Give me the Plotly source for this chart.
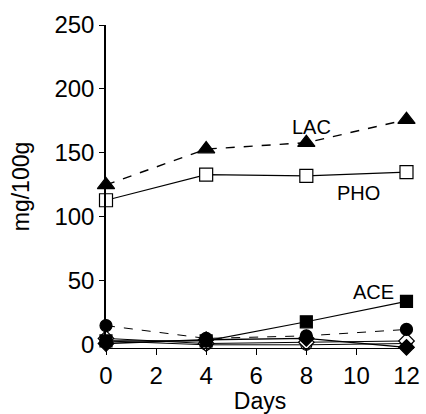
import plotly.graph_objects as go

days = [0, 4, 8, 12]

lac = [125, 153, 158, 176]        # filled triangle, dashed
pho = [113, 133, 132, 135]        # open square, solid
ace = [3, 3, 18, 34]              # filled square, solid
dot_dashed = [15, 5, 7, 12]       # filled circle, dashed
diamond_solid = [1, 4, 5, -2]     # filled diamond, solid
open_diamond = [5, 1, 2, 3]       # open diamond, solid
open_circle = [3, 0, 0, 1]        # open circle, solid

x_ticks = [0, 2, 4, 6, 8, 10, 12]
y_ticks = [0, 50, 100, 150, 200, 250]

FONT = "Liberation Sans, Arial, sans-serif"

fig = go.Figure()


def add(y, symbol, dash, size, width=1.2, fill="black"):
    fig.add_trace(go.Scatter(
        x=days, y=y, mode="lines+markers", cliponaxis=False,
        line=dict(color="black", width=width, dash=dash),
        marker=dict(symbol=symbol, size=size, color=fill,
                    line=dict(color="black", width=1.2)),
        showlegend=False,
    ))


# open markers use a white fill so lines don't show through them
add(open_circle, "circle", "solid", 11, 1.0, "white")
add(open_diamond, "diamond", "solid", 12, 1.0, "white")
add(diamond_solid, "diamond", "solid", 12, 1.4)
add(dot_dashed, "circle", "dash", 12, 1.0)
add(ace, "square", "solid", 12, 1.2)
add(pho, "square", "solid", 13, 1.2, "white")
add(lac, "triangle-up", "dash", 15, 1.4)

labels = [("LAC", 8.2, 170), ("PHO", 10.1, 119), ("ACE", 10.67, 41)]
for text, x, y in labels:
    fig.add_annotation(x=x, y=y, text=text, showarrow=False,
                       font=dict(family=FONT, size=20, color="black"))

fig.update_layout(
    width=426, height=414,
    margin=dict(l=106, r=6, t=25, b=66),
    paper_bgcolor="white", plot_bgcolor="white",
    font=dict(family=FONT, size=24, color="black"),
    xaxis=dict(
        range=[0, 12.3], tickvals=x_ticks, ticks="outside", ticklen=6,
        tickwidth=1.2, tickcolor="black", showline=True, linecolor="black",
        linewidth=1.2, showgrid=False, zeroline=False,
        title=dict(text="Days", font=dict(size=23), standoff=2),
        tickfont=dict(size=24),
    ),
    yaxis=dict(
        range=[-2.5, 250], tickvals=y_ticks, ticks="outside", ticklen=5,
        tickwidth=1.2, tickcolor="black", showline=True, linecolor="black",
        linewidth=1.5, showgrid=False, zeroline=False,
        title=dict(text="mg/100g", font=dict(size=23), standoff=18),
        tickfont=dict(size=24),
    ),
)

fig.write_html("out.html")
